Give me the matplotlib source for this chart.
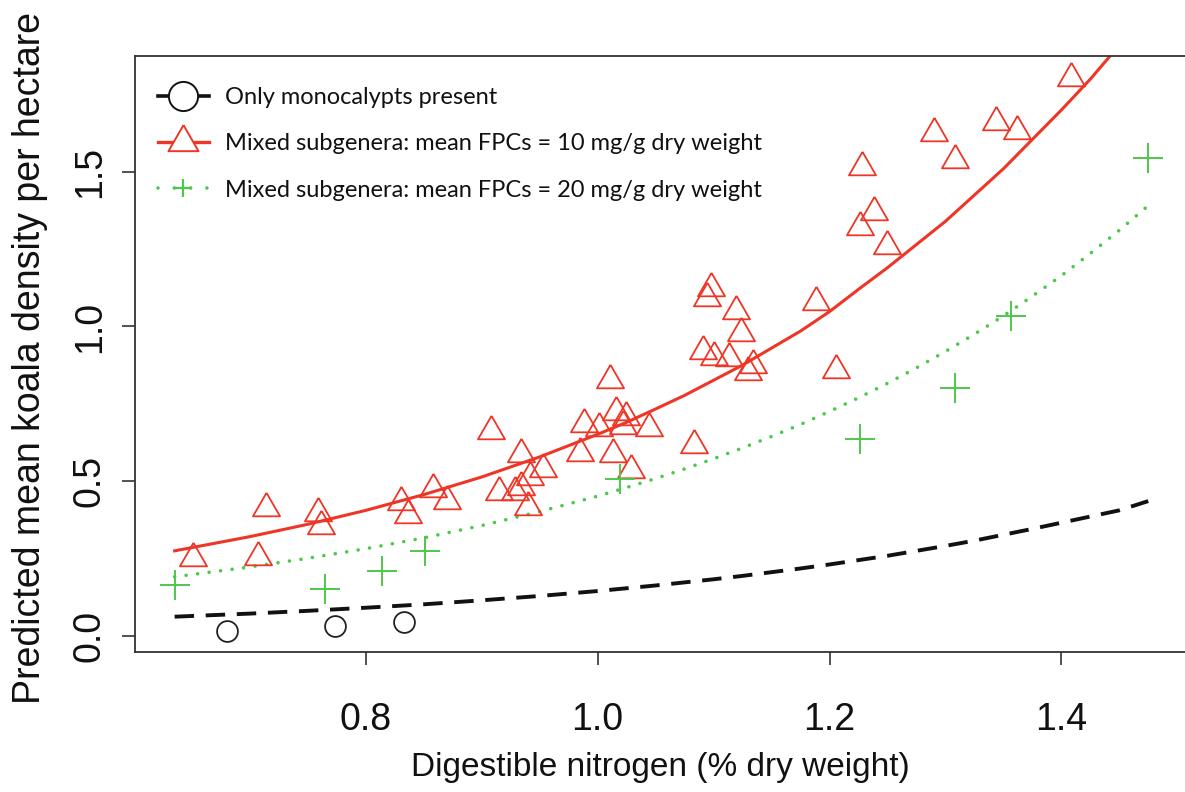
import matplotlib.pyplot as plt
from matplotlib.lines import Line2D

# Observed site values: digestible N (% dry wt) vs koala density (per ha)
mono_n = [0.680, 0.773, 0.833]
mono_density = [0.016, 0.032, 0.045]

fpc10_n = [0.651, 0.714, 0.707, 0.759, 0.761, 0.830, 0.836, 0.858, 0.870, 0.908,
           0.934, 0.953, 0.942, 0.915, 0.929, 0.934, 0.940, 0.988, 1.001, 0.985,
           1.013, 1.016, 1.024, 1.022, 1.044, 1.029, 1.011, 1.083, 1.098, 1.094,
           1.119, 1.124, 1.091, 1.100, 1.113, 1.134, 1.130, 1.188, 1.206, 1.408,
           1.290, 1.308, 1.344, 1.362, 1.228, 1.238, 1.226, 1.250]
fpc10_density = [0.250, 0.413, 0.253, 0.395, 0.355, 0.433, 0.390, 0.475, 0.435, 0.662,
                 0.587, 0.539, 0.514, 0.463, 0.464, 0.480, 0.417, 0.684, 0.672, 0.591,
                 0.587, 0.722, 0.706, 0.679, 0.670, 0.535, 0.826, 0.615, 1.124, 1.091,
                 1.049, 0.979, 0.922, 0.900, 0.897, 0.874, 0.854, 1.080, 0.860, 1.804,
                 1.626, 1.540, 1.662, 1.633, 1.515, 1.370, 1.321, 1.260]

fpc20_n = [0.635, 0.765, 0.814, 0.851, 1.019, 1.226, 1.308, 1.357, 1.475]
fpc20_density = [0.163, 0.151, 0.209, 0.273, 0.505, 0.635, 0.801, 1.034, 1.545]

# Model predictions along the nitrogen range
curve_n = [0.635, 0.70, 0.75, 0.80, 0.85, 0.90, 0.95, 1.00, 1.025, 1.05,
           1.075, 1.10, 1.125, 1.15, 1.175, 1.20, 1.225, 1.25, 1.275, 1.30,
           1.325, 1.35, 1.375, 1.40, 1.425, 1.45, 1.475]
curve_mono = [0.061, 0.071, 0.080, 0.090, 0.101, 0.114, 0.128, 0.144, 0.153, 0.162,
              0.172, 0.182, 0.193, 0.205, 0.217, 0.230, 0.244, 0.258, 0.274, 0.290,
              0.307, 0.326, 0.345, 0.365, 0.385, 0.405, 0.435]
curve_fpc10 = [0.274, 0.320, 0.360, 0.405, 0.456, 0.513, 0.578, 0.651, 0.690, 0.733,
               0.777, 0.826, 0.875, 0.930, 0.985, 1.048, 1.120, 1.190, 1.265, 1.340,
               1.425, 1.510, 1.605, 1.700, 1.800, 1.910, 2.030]
curve_fpc20 = [0.190, 0.222, 0.250, 0.281, 0.316, 0.356, 0.401, 0.451, 0.479, 0.508,
               0.539, 0.572, 0.607, 0.644, 0.683, 0.725, 0.769, 0.816, 0.866, 0.919,
               0.975, 1.034, 1.098, 1.164, 1.236, 1.311, 1.391]

red = '#ee3526'
green = '#4cc84a'
black = '#111111'

# equilateral open triangle like R's pch = 2
tri = [(0, 1), (-0.866, -0.5), (0.866, -0.5), (0, 1)]

plt.rcParams['font.family'] = ['Liberation Sans', 'DejaVu Sans']

fig = plt.figure(figsize=(11.85, 7.92), dpi=100)
ax = fig.add_axes([0.1139, 0.1771, 0.8861, 0.7526])

ax.plot(curve_n, curve_fpc10, color=red, lw=2.2, solid_joinstyle='round')
ax.plot(curve_n, curve_fpc20, color=green, lw=2.6, linestyle=(0, (0.01, 3.2)),
        dash_capstyle='round')
ax.plot(curve_n, curve_mono, color=black, lw=2.8, linestyle=(0, (5, 3)),
        dash_capstyle='butt')

ax.plot(mono_n, mono_density, linestyle='none', marker='o', ms=15,
        mfc='none', mec='#222222', mew=1.3)
ax.plot(fpc10_n, fpc10_density, linestyle='none', marker=tri, ms=22.5,
        mfc='none', mec=red, mew=1.3)
ax.plot(fpc20_n, fpc20_density, linestyle='none', marker='+', ms=21,
        color=green, mew=1.4)

ax.set_xlim(0.6008, 1.5067)
ax.set_ylim(-0.0524, 1.876)
ax.set_xticks([0.8, 1.0, 1.2, 1.4])
ax.set_xticklabels(['0.8', '1.0', '1.2', '1.4'])
ax.set_yticks([0.0, 0.5, 1.0, 1.5])
ax.set_yticklabels(['0.0', '0.5', '1.0', '1.5'])

for side in ['left', 'top', 'bottom']:
    ax.spines[side].set_color('#333333')
    ax.spines[side].set_linewidth(1.3)
ax.spines['right'].set_visible(False)

ax.tick_params(axis='both', length=9.5, width=1.2, color='#333333',
               labelsize=27, labelcolor='#111111')
ax.tick_params(axis='x', pad=27)
ax.tick_params(axis='y', pad=10)
for lab in ax.get_yticklabels():
    lab.set_rotation(90)
    lab.set_va('center')

ax.set_xlabel('Digestible nitrogen (% dry weight)', fontsize=24, color='#111111')
ax.xaxis.set_label_coords(0.5, -0.168)
ax.set_ylabel('Predicted mean koala density per hectare', fontsize=27,
              color='#111111', va='center')
ax.yaxis.set_label_coords(-0.1, 0.492)

handles = [
    Line2D([], [], color=black, lw=2.6, marker='o', ms=21, mfc='white',
           mec=black, mew=1.4),
    Line2D([], [], color=red, lw=2.4, marker=tri, ms=25, mfc='white',
           mec=red, mew=1.4),
    Line2D([], [], color=green, lw=2.6, linestyle=(0, (0.01, 4.5)),
           dash_capstyle='round', marker='+', ms=13, mew=1.6),
]
labels = ['Only monocalypts present',
          'Mixed subgenera: mean FPCs = 10 mg/g dry weight',
          'Mixed subgenera: mean FPCs = 20 mg/g dry weight']
leg = ax.legend(handles, labels, loc='upper left',
                bbox_to_anchor=(0.1333, 0.890), bbox_transform=fig.transFigure,
                frameon=False, borderpad=0, borderaxespad=0,
                handlelength=2.16, handletextpad=0.68, labelspacing=1.07,
                prop={'family': 'Lato', 'size': 17})
for t in leg.get_texts():
    t.set_color('#111111')

fig.savefig('out.png', dpi=100)
